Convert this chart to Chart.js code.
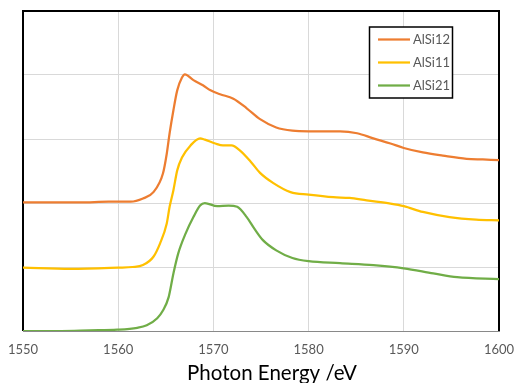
<!DOCTYPE html>
<html>
<head>
<meta charset="utf-8">
<script src="https://cdn.jsdelivr.net/npm/chart.js@4/dist/chart.umd.min.js"></script>
<style>
  html, body { margin: 0; padding: 0; background: #fff; }
  #wrap { width: 514px; height: 383px; }
</style>
</head>
<body>
<div id="wrap"><canvas id="xasChart"></canvas></div>
<script>
// photon energy (eV) and intensity (offset, arb. units)
const alsi12Energy = [1550, 1553, 1556, 1559, 1561.3, 1562.6, 1563.7, 1564.7, 1565.1, 1565.4, 1565.8, 1566.2, 1566.7, 1567.0, 1567.9, 1568.9, 1569.7, 1570.7, 1572.1, 1573.5, 1574.9, 1576.6, 1578.3, 1580, 1583.3, 1585.1, 1586.8, 1588.6, 1590, 1592, 1594.1, 1596.6, 1598.3, 1600];
const alsi12Values = [2.01, 2.01, 2.01, 2.02, 2.02, 2.07, 2.17, 2.46, 2.77, 3.09, 3.45, 3.76, 3.96, 4.01, 3.92, 3.84, 3.76, 3.70, 3.63, 3.48, 3.31, 3.18, 3.13, 3.12, 3.12, 3.09, 3.01, 2.93, 2.86, 2.79, 2.74, 2.69, 2.68, 2.67];

const alsi11Energy = [1550, 1555, 1560, 1561.5, 1562.6, 1563.7, 1564.4, 1565.1, 1565.4, 1565.8, 1566.2, 1566.7, 1567.6, 1568.6, 1569.1, 1570.2, 1571, 1571.9, 1572.8, 1573.9, 1574.9, 1576.3, 1578.1, 1580, 1582.6, 1584.3, 1586.1, 1588.6, 1590, 1592, 1594.8, 1597.6, 1600];
const alsi11Values = [0.99, 0.97, 0.99, 1.00, 1.03, 1.16, 1.37, 1.68, 1.94, 2.20, 2.51, 2.71, 2.90, 3.01, 2.99, 2.93, 2.90, 2.90, 2.82, 2.65, 2.47, 2.31, 2.17, 2.13, 2.09, 2.08, 2.04, 1.99, 1.95, 1.86, 1.78, 1.74, 1.73];

const alsi21Energy = [1550, 1554, 1557, 1559.9, 1562, 1563, 1564.1, 1564.7, 1565.3, 1565.8, 1566.3, 1567.1, 1567.9, 1568.6, 1569.1, 1570.4, 1571.6, 1572.5, 1573.5, 1574.3, 1575.2, 1576.6, 1578.3, 1580, 1583.3, 1586.8, 1590, 1593.1, 1595.6, 1600];
const alsi21Values = [0.0, 0.0, 0.01, 0.02, 0.05, 0.09, 0.20, 0.32, 0.53, 0.90, 1.21, 1.53, 1.78, 1.96, 2.00, 1.95, 1.96, 1.94, 1.78, 1.60, 1.42, 1.26, 1.14, 1.09, 1.06, 1.03, 0.98, 0.90, 0.84, 0.81];

const seriesNames = ["AlSi12", "AlSi11", "AlSi21"];
const seriesColors = ["#ED7D31", "#FFC000", "#70AD47"];
const xTitle = "Photon Energy /eV";

function toPoints(xs, ys) {
    const pts = [];
    for (var i = 0; i < xs.length; i++) {
        pts.push({x: xs[i], y: ys[i]});
    }
    return pts;
}

const allSeries = [
    toPoints(alsi12Energy, alsi12Values),
    toPoints(alsi11Energy, alsi11Values),
    toPoints(alsi21Energy, alsi21Values)
];

// black frame round the plot area (drawn under the lines)
const plotFrame = {
    id: "plotFrame",
    beforeDatasetsDraw(chart) {
        const {ctx, chartArea: a} = chart;
        ctx.save();
        ctx.strokeStyle = "#000";
        ctx.lineWidth = 2;
        ctx.beginPath();
        ctx.moveTo(a.left, a.bottom);
        ctx.lineTo(a.left, a.top);
        ctx.lineTo(a.right, a.top);
        ctx.lineTo(a.right, a.bottom);
        ctx.stroke();
        ctx.restore();
    }
};

// boxed legend inside the plot, top right + the x axis title (sits a bit right of centre)
const boxLegend = {
    id: "boxLegend",
    afterDraw(chart) {
        const ctx = chart.ctx;
        const x = 369.5, y = 27, w = 83, h = 71;
        ctx.save();
        ctx.fillStyle = "#fff";
        ctx.fillRect(x, y, w, h);
        ctx.strokeStyle = "#000";
        ctx.lineWidth = 1.5;
        ctx.strokeRect(x, y, w, h);
        ctx.font = "13px Lato";
        ctx.textBaseline = "middle";
        chart.data.datasets.forEach((ds, i) => {
            const rowY = 39.5 + i * 23;
            ctx.strokeStyle = ds.borderColor;
            ctx.lineWidth = 2.25;
            ctx.beginPath();
            ctx.moveTo(378, rowY);
            ctx.lineTo(410, rowY);
            ctx.stroke();
            ctx.fillStyle = "#595959";
            ctx.fillText(ds.label, 413, rowY);
        });

        ctx.fillStyle = "#000";
        ctx.font = "20.5px Lato";
        ctx.textAlign = "center";
        ctx.textBaseline = "alphabetic";
        ctx.fillText(xTitle, 272, 380);
        ctx.restore();
    }
};

const datasets = seriesNames.map((name, i) => ({
    label: name,
    data: allSeries[i],
    borderColor: seriesColors[i],
    backgroundColor: seriesColors[i],
    borderWidth: 2.25,
    pointRadius: 0,
    cubicInterpolationMode: "monotone",
    fill: false
}));

new Chart(document.getElementById("xasChart"), {
    type: "line",
    data: {datasets: datasets},
    plugins: [plotFrame, boxLegend],
    options: {
        responsive: true,
        maintainAspectRatio: false,
        animation: false,
        layout: {padding: {left: 23, right: 15, top: 11, bottom: 0}},
        plugins: {
            legend: {display: false},
            tooltip: {enabled: false}
        },
        scales: {
            x: {
                type: "linear",
                min: 1550,
                max: 1600,
                afterFit: s => { s.height = 52; s.paddingLeft = 0; s.paddingRight = 0; },
                ticks: {
                    stepSize: 10,
                    padding: 11,
                    color: "#595959",
                    font: {family: "Lato", size: 13},
                    callback: v => String(v)
                },
                grid: {color: "#d9d9d9", lineWidth: 1, drawTicks: false},
                border: {display: true, color: "#898989", width: 1}
            },
            y: {
                min: 0,
                max: 5,
                afterFit: s => { s.width = 0; },
                ticks: {display: false, stepSize: 1},
                grid: {color: "#d9d9d9", lineWidth: 1, drawTicks: false},
                border: {display: false}
            }
        }
    }
});
</script>
</body>
</html>
